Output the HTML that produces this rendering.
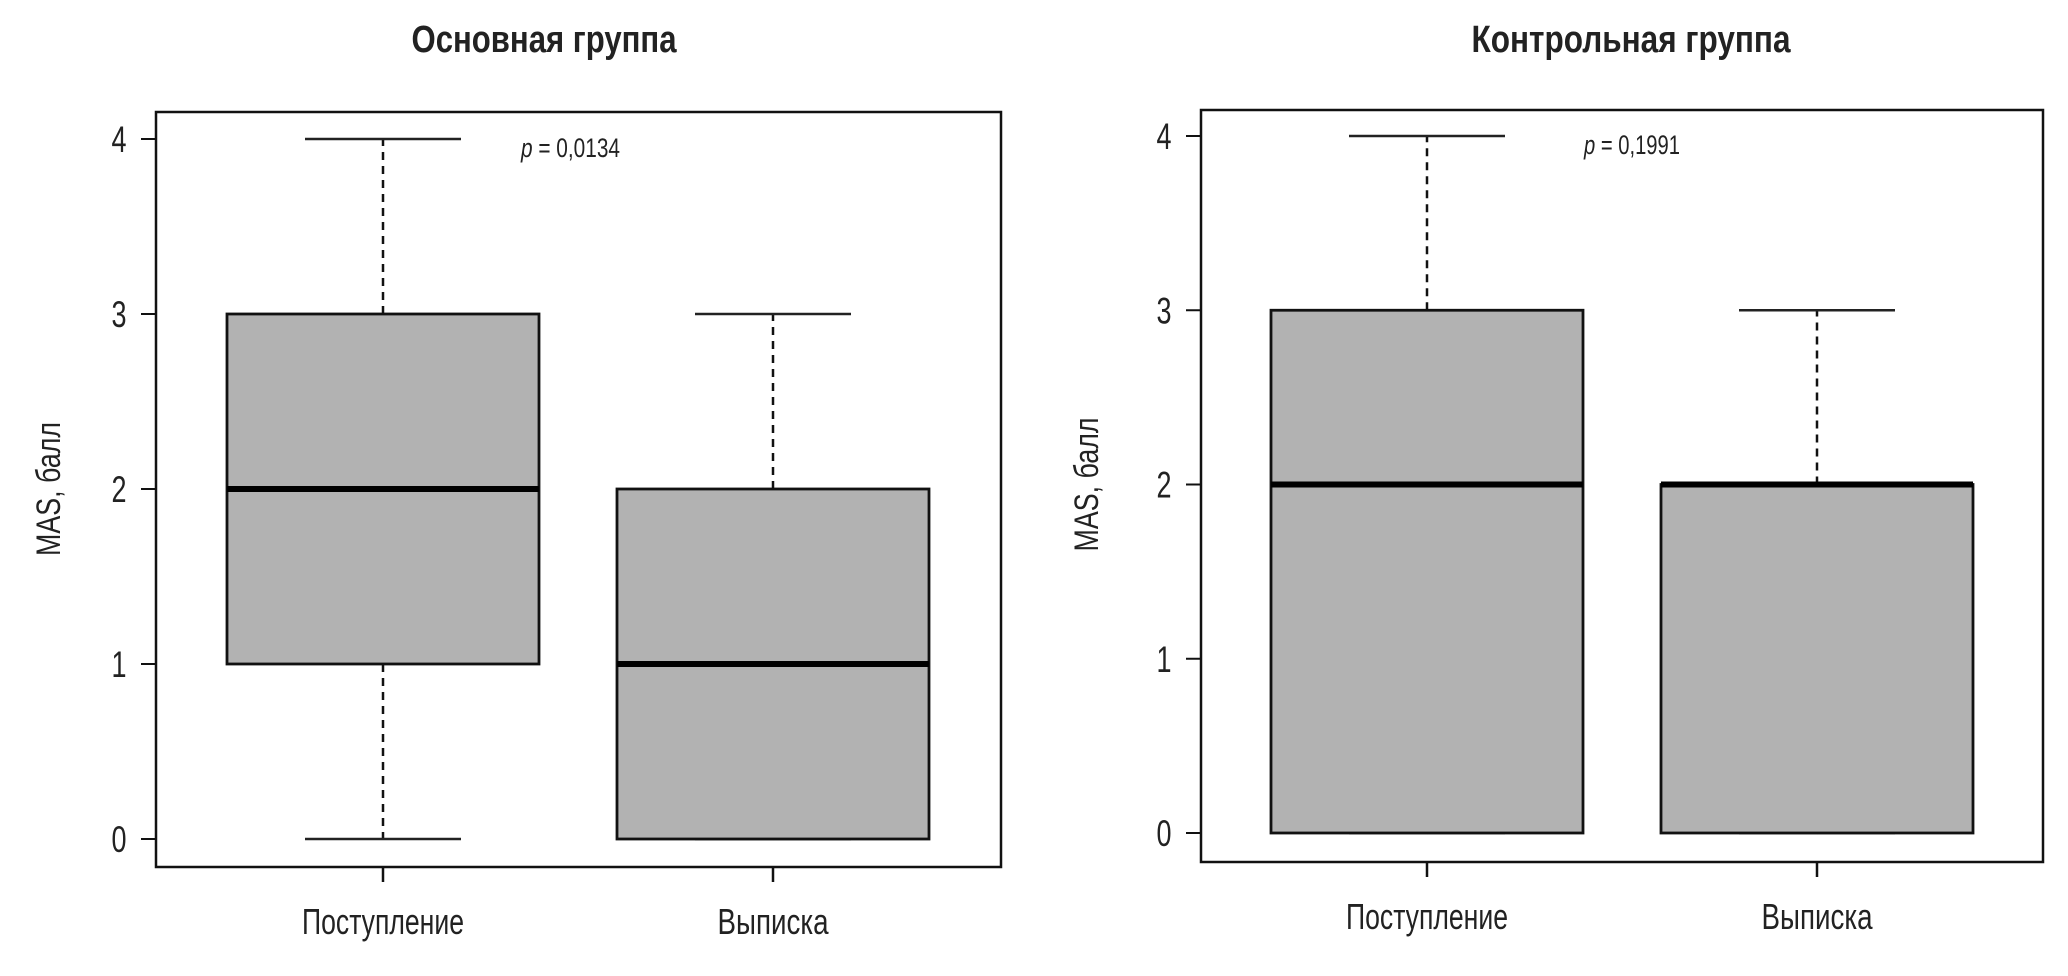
<!DOCTYPE html>
<html><head><meta charset="utf-8"><style>
html,body{margin:0;padding:0;background:#fff;}
svg{display:block;font-family:"Liberation Sans Narrow","Liberation Sans","DejaVu Sans",sans-serif;}
</style></head><body>
<svg id="chart" width="2068" height="976" viewBox="0 0 2068 976" xmlns="http://www.w3.org/2000/svg"></svg>
<script>
const categories = ["Поступление", "Выписка"];
const panelTitles = ["Основная группа", "Контрольная группа"];
const pValues = ["0,0134", "0,1991"];
const yTicks = [0, 1, 2, 3, 4];
// [min, q1, median, q3, max] per category, per panel
const mainStats = [[0, 1, 2, 3, 4], [0, 0, 1, 2, 3]];
const controlStats = [[0, 0, 2, 3, 4], [0, 0, 2, 2, 3]];
const allStats = [mainStats, controlStats];

const panels = [
  {left:156, right:1001, top:112, bottom:867, y0:839, y4:139, centers:[383,773], halfBox:156, halfCap:78, titleX:544, titleW:265, pX:521, pW:99, yTitleX:49},
  {left:1201, right:2043, top:110, bottom:862, y0:833, y4:136, centers:[1427,1817], halfBox:156, halfCap:78, titleX:1631, titleW:319, pX:1584, pW:96, yTitleX:1087}
];
const xLabelW = [162, 111];
const NS = "http://www.w3.org/2000/svg";
const svg = document.getElementById("chart");
function el(tag, attrs, parent){
  const e = document.createElementNS(NS, tag);
  for (const k in attrs) e.setAttribute(k, attrs[k]);
  (parent||svg).appendChild(e);
  return e;
}
panels.forEach((p, pi) => {
  const g = el("g", {});
  
  
  const yScale = v => p.y0 + (p.y4 - p.y0) * (v - yTicks[0]) / (yTicks[yTicks.length-1] - yTicks[0]);

  const t = el("text", {x:p.titleX, y:52, "text-anchor":"middle", "font-size":38, "font-weight":"bold", fill:"#222", textLength:p.titleW, lengthAdjust:"spacingAndGlyphs"}, g);
  t.textContent = panelTitles[pi];
  
  

  const frame = el("rect", {x:p.left, y:p.top, width:p.right-p.left, height:p.bottom-p.top, fill:"none", stroke:"#111", "stroke-width":2.5}, g);
  
  

  yTicks.forEach(v => {
    const y = yScale(v);
    el("line", {x1:p.left-15, x2:p.left, y1:y, y2:y, stroke:"#111", "stroke-width":2}, g);
    const tl = el("text", {x:p.left-37, y:y+13, "text-anchor":"middle", "font-size":37, fill:"#222", textLength:15, lengthAdjust:"spacingAndGlyphs"}, g);
    tl.textContent = v;
    
    
  });

  const yt = el("text", {x:0, y:0, "text-anchor":"middle", "font-size":34, fill:"#222", textLength:134, lengthAdjust:"spacingAndGlyphs", transform:`translate(${p.yTitleX+11},${(p.y0+p.y4)/2}) rotate(-90)`}, g);
  yt.textContent = "MAS, балл";
  
  

  const pt = el("text", {x:p.pX, y:p.y4+18, "font-size":27, fill:"#222", textLength:p.pW, lengthAdjust:"spacingAndGlyphs"}, g);
  pt.innerHTML = '<tspan font-style="italic">p</tspan> = ' + pValues[pi];
  
  

  categories.forEach((c, ci) => {
    const s = allStats[pi][ci];
    const cx = p.centers[ci];
    const bg = el("g", {}, g);
    
    
    el("line", {x1:cx, x2:cx, y1:yScale(s[3]), y2:yScale(s[4]), stroke:"#111", "stroke-width":2.5, "stroke-dasharray":"8,6"}, bg);
    el("line", {x1:cx, x2:cx, y1:yScale(s[1]), y2:yScale(s[0]), stroke:"#111", "stroke-width":2.5, "stroke-dasharray":"8,6"}, bg);
    el("line", {x1:cx-p.halfCap, x2:cx+p.halfCap, y1:yScale(s[4]), y2:yScale(s[4]), stroke:"#222", "stroke-width":2.5}, bg);
    el("line", {x1:cx-p.halfCap, x2:cx+p.halfCap, y1:yScale(s[0]), y2:yScale(s[0]), stroke:"#222", "stroke-width":2.5}, bg);
    el("rect", {x:cx-p.halfBox, y:yScale(s[3]), width:2*p.halfBox, height:yScale(s[1])-yScale(s[3]), fill:"#b2b2b2", stroke:"#111", "stroke-width":2.8}, bg);
    el("line", {x1:cx-p.halfBox, x2:cx+p.halfBox, y1:yScale(s[2]), y2:yScale(s[2]), stroke:"#000", "stroke-width":6}, bg);
    el("line", {x1:cx, x2:cx, y1:p.bottom, y2:p.bottom+15, stroke:"#111", "stroke-width":2.5}, g);
    const xl = el("text", {x:cx, y:p.bottom+67, "text-anchor":"middle", "font-size":36, fill:"#222", textLength:xLabelW[ci], lengthAdjust:"spacingAndGlyphs"}, g);
    xl.textContent = c;
    
    
  });
});
</script>
</body></html>
